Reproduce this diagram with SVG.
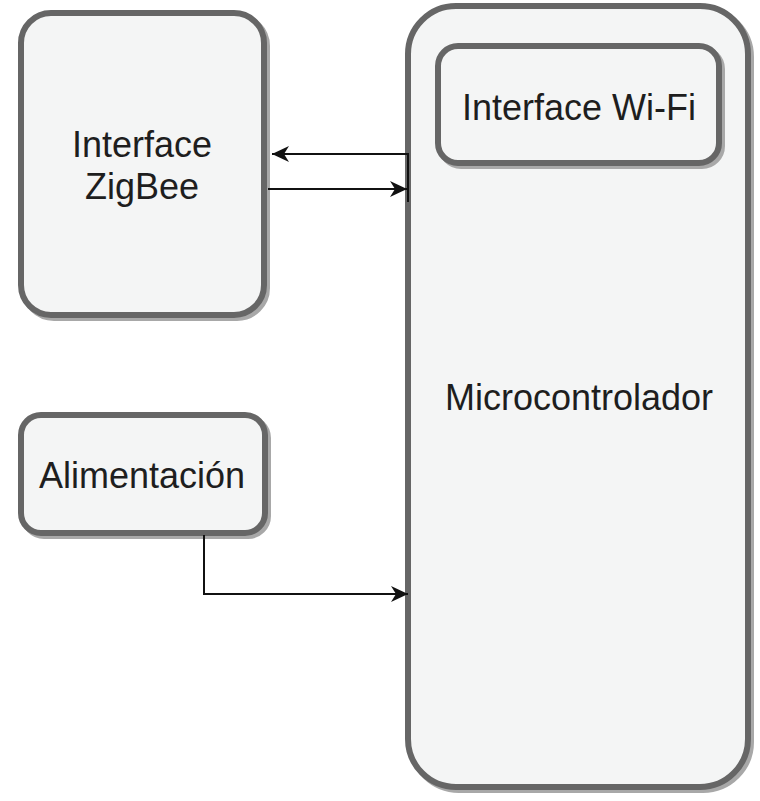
<svg xmlns="http://www.w3.org/2000/svg" width="760" height="801" viewBox="0 0 760 801">
  <style>
    .box { fill: #f4f5f5; stroke: #666666; stroke-width: 6; }
    .shadow { fill: #a8a8a8; stroke: #a8a8a8; stroke-width: 6; }
    .label { font-family: "Liberation Sans", Arial, Helvetica, sans-serif; font-size: 36px; fill: #1e1e1e; text-anchor: middle; }
    .wire { fill: none; stroke: #111111; stroke-width: 2; }
  </style>
  <defs>
    <marker id="arrow" viewBox="0 0 18 18" refX="17" refY="9" markerWidth="18" markerHeight="18" markerUnits="userSpaceOnUse" orient="auto">
      <path d="M17,9 L0,1 L5,9 L0,17 Z" fill="#111111"/>
    </marker>
  </defs>

  <rect width="760" height="801" fill="#ffffff"/>

  <!-- ZigBee interface -->
  <g id="zigbee">
    <rect class="shadow" x="24" y="16" width="243" height="302" rx="30"/>
    <rect class="box" x="21" y="13" width="243" height="302" rx="30"/>
    <text class="label" x="142" y="157">Interface</text>
    <text class="label" x="142" y="199">ZigBee</text>
  </g>

  <!-- Power supply -->
  <g id="alimentacion">
    <rect class="shadow" x="24" y="418" width="244" height="118" rx="20"/>
    <rect class="box" x="21" y="415" width="244" height="118" rx="20"/>
    <text class="label" x="142" y="488">Alimentación</text>
  </g>

  <!-- Microcontroller with embedded Wi-Fi interface -->
  <g id="microcontrolador">
    <rect class="shadow" x="411" y="9" width="340" height="781" rx="48"/>
    <rect class="box" x="408" y="6" width="340" height="781" rx="48"/>
    <text class="label" x="579" y="410">Microcontrolador</text>
  </g>

  <g id="wifi">
    <rect class="shadow" x="441" y="49" width="281" height="117" rx="20"/>
    <rect class="box" x="438" y="46" width="281" height="117" rx="20"/>
    <text class="label" x="579" y="120">Interface Wi-Fi</text>
  </g>

  <!-- Connectors -->
  <g id="connectors">
    <path class="wire" d="M408,153 L408,202"/>
    <path class="wire" d="M408,154 L272,154" marker-end="url(#arrow)"/>
    <path class="wire" d="M268,189 L407,189" marker-end="url(#arrow)"/>
    <path class="wire" d="M204,535 L204,594 L408,594" marker-end="url(#arrow)"/>
  </g>
</svg>
